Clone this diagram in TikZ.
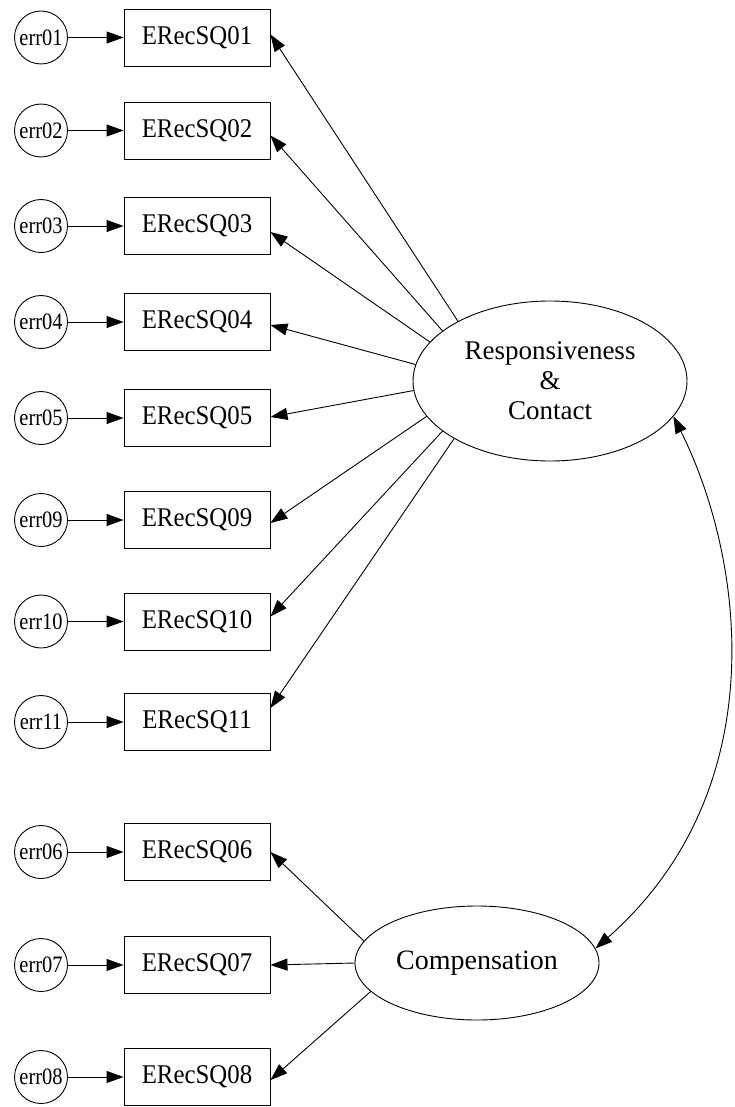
\documentclass[tikz,border=0pt]{standalone}
\usepackage{fontspec}
\setmainfont{Liberation Serif}
\usetikzlibrary{arrows.meta,shapes.geometric}
% narrowed label text, as the drawing program sets it
\newcommand{\narrow}[2]{\scalebox{#1}[1]{#2}}
\begin{document}
\begin{tikzpicture}[x=1pt,y=-1pt,line width=0.9pt,
  errnode/.style={circle,draw,minimum size=53pt,inner sep=0pt,
    font=\fontsize{23.5}{23.5}\selectfont},
  obsbox/.style={rectangle,draw,minimum width=146pt,minimum height=57pt,
    inner sep=0pt,font=\fontsize{27}{27}\selectfont},
  latent/.style={ellipse,draw,inner sep=0pt,align=center,
    font=\fontsize{27}{30}\selectfont},
  regarrow/.style={-{Triangle[length=17pt,width=12pt]}},
  covarrow/.style={{Triangle[length=17pt,width=12pt]}-{Triangle[length=17pt,width=12pt]}}]
\useasboundingbox (0,0) rectangle (734,1107);

% indicators with their error terms
\foreach \id/\y in {01/37.5,02/130.5,03/226,04/322,05/418,09/520,10/621.5,11/722,06/852,07/965,08/1077}{
  \node[errnode] (e\id) at (41,\y) {\narrow{0.87}{err\id}};
  \node[obsbox] (b\id) at (197,\y) {\narrow{0.92}{ERecSQ\id}};
  \draw[regarrow] (e\id) -- (b\id);
}

% latent factors
\node[latent,minimum width=274pt,minimum height=160pt] (rc) at (550,381)
  {Responsiveness\\\&\\Contact};
\node[latent,minimum width=244pt,minimum height=114pt,
  font=\fontsize{28}{28}\selectfont] (cm) at (477,963) {Compensation};

% loadings of Responsiveness & Contact
\foreach \id/\a/\s in {01/147.6/3,02/155.6/-5,03/162.8/-6,04/173.2/-3,05/184.6/1,09/196.3/-3,10/205.3/5,11/211.8/14}{
  \draw[regarrow] (rc.\a) -- ([yshift=\s pt]b\id.east);
}

% loadings of Compensation
\foreach \id/\a/\s in {06/169.4/0,07/180/0,08/195.4/-3}{
  \draw[regarrow] (cm.\a) -- ([yshift=\s pt]b\id.east);
}

% covariance between the factors
\draw[covarrow] (rc.-16) .. controls (745,560) and (775,790) .. (cm.7.5);
\end{tikzpicture}
\end{document}
